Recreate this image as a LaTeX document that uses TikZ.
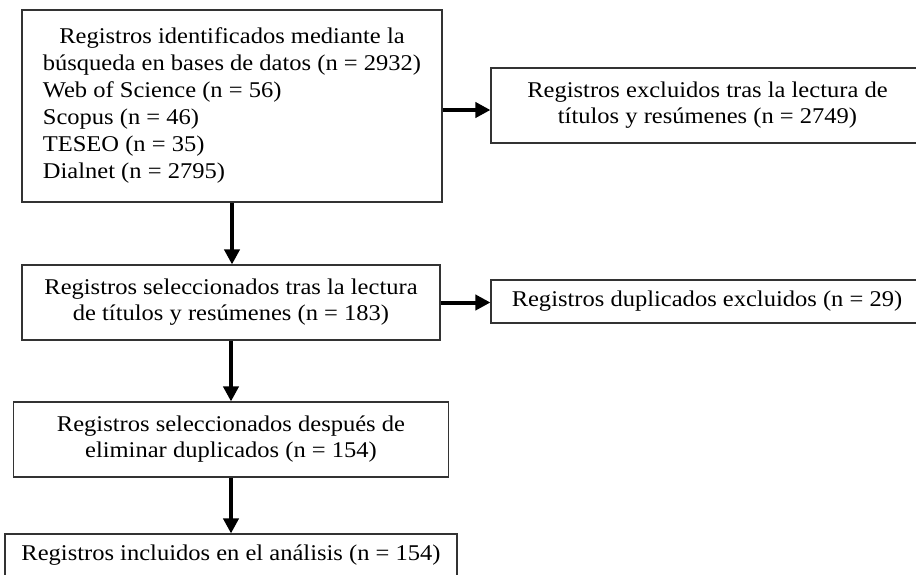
\documentclass[tikz,border=0pt]{standalone}
\usepackage{fontspec}
\setmainfont[FakeStretch=1.09]{Liberation Serif}
\usetikzlibrary{arrows.meta}
\begin{document}
\begin{tikzpicture}[x=1pt,y=-1pt,
  box/.style={draw=black!80, line width=1.1pt, inner sep=0pt, align=center,
    font=\fontsize{22.5}{26}\selectfont},
  arr/.style={line width=4pt, -{Triangle[length=15pt,width=15pt]}}]
\useasboundingbox (0,0) rectangle (916,574);

\node[box, minimum width=420pt, minimum height=192pt, font=\fontsize{22.5}{27}\selectfont] (b1) at (232,106)
  {\raisebox{11pt}{\begin{tabular}{@{}l@{}}\multicolumn{1}{@{}c@{}}{Registros identificados mediante la}\\ búsqueda en bases de datos (n = 2932)\\ Web of Science (n = 56)\\ Scopus (n = 46)\\ TESEO (n = 35)\\ Dialnet (n = 2795)\end{tabular}}};

\node[box, minimum width=433pt, minimum height=75pt] (b2) at (707.5,105.5)
  {\raisebox{-2pt}{\begin{tabular}{@{}c@{}}Registros excluidos tras la lectura de\\ títulos y resúmenes (n = 2749)\end{tabular}}};

\node[box, minimum width=418pt, minimum height=75pt] (b3) at (231,302.5)
  {Registros seleccionados tras la lectura\\ de títulos y resúmenes (n = 183)};

\node[box, minimum width=432pt, minimum height=43pt] (b4) at (707,301.5)
  {Registros duplicados excluidos (n = 29)};

\node[box, minimum width=435pt, minimum height=75pt] (b5) at (231,439.5)
  {Registros seleccionados después de\\ eliminar duplicados (n = 154)};

\node[box, minimum width=452pt, minimum height=43pt] (b6) at (231,555.5)
  {Registros incluidos en el análisis (n = 154)};

\draw[arr] (b1.south) -- (b1.south |- b3.north);
\draw[arr] (b3.south) -- (b3.south |- b5.north);
\draw[arr] (b5.south) -- (b5.south |- b6.north);
\draw[arr] ([yshift=-4pt]b1.east) -- ([yshift=-4pt]b1.east -| b2.west);
\draw[arr] (b3.east) -- (b3.east -| b4.west);
\end{tikzpicture}
\end{document}
